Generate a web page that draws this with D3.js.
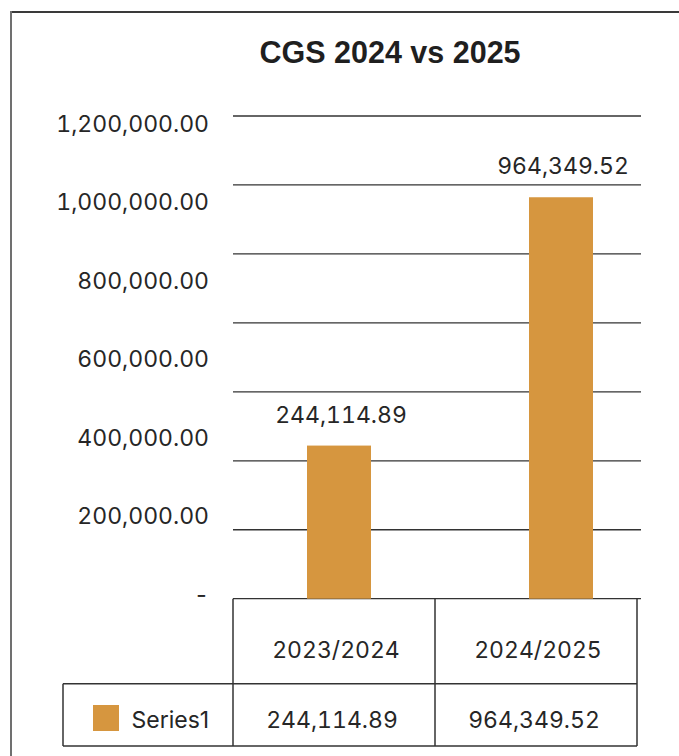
<!DOCTYPE html>
<html>
<head>
<meta charset="utf-8">
<script src="https://cdn.jsdelivr.net/npm/d3@7"></script>
<style>
    body { margin: 0; background: #fff; }
    svg { display: block; }
</style>
</head>
<body>
<script>
window.onload = main;

// values
const categories = ["2023/2024", "2024/2025"]
const seriesName = "Series1"
const seriesValues = [244114.89, 964349.52]
const axisTicks = [0, 200000, 400000, 600000, 800000, 1000000, 1200000]
const gridTicks = [-200000, 0, 200000, 400000, 600000, 800000, 1000000, 1200000]
const titleText = "CGS 2024 vs 2025"

const svgWidth = 679;
const svgHeight = 756;

const barColor = "#d6963f"
const lineColor = "#333"
const textColor = "#262626"
const fontBody = "Inter, 'Liberation Sans', Arial, sans-serif"

function main() {
    render_data()
}

function render_data() {
    const data = categories.map((c, i) => ({category: c, value: seriesValues[i]}))

    const svg = d3.select("body").append("svg")
        .attr("width", svgWidth)
        .attr("height", svgHeight)

    // frame (only top and left edges are visible)
    svg.append("line")
        .attr("x1", 10).attr("x2", svgWidth).attr("y1", 12).attr("y2", 12)
        .attr("stroke", "#3a3a3a").attr("stroke-width", 2)
    svg.append("line")
        .attr("x1", 11).attr("x2", 11).attr("y1", 11).attr("y2", svgHeight)
        .attr("stroke", "#707070").attr("stroke-width", 2)

    svg.append("text")
        .attr("x", 390)
        .attr("y", 63)
        .attr("text-anchor", "middle")
        .style("font-family", "'Liberation Sans', Arial, sans-serif")
        .style("font-weight", "bold")
        .style("font-size", "30.5px")
        .attr("fill", "#1f1f1f")
        .text(titleText)

    const plotLeft = 233
    const plotRight = 641

    const scaleY = d3.scaleLinear()
        .domain([-200000, 1200000])
        .range([598.7, 116])

    const scaleLabelY = d3.scaleLinear()
        .domain([0, 1200000])
        .range([595, 124])

    const scaleX = d3.scalePoint()
        .domain(categories)
        .range([228, 672])
        .padding(0.5)

    const scaleTable = d3.scaleBand()
        .domain(categories)
        .range([plotLeft, 637])

    const barWidth = 64

    // gridlines
    svg.append("g")
        .selectAll("line")
        .data(gridTicks)
        .join("line")
        .attr("x1", plotLeft)
        .attr("x2", plotRight)
        .attr("y1", d => scaleY(d))
        .attr("y2", d => scaleY(d))
        .attr("stroke", lineColor)
        .attr("stroke-width", 1.3)

    // y labels
    const fmt = d3.format(",.2f")
    const gAxis = svg.append("g")
        .attr("transform", "translate(209,0)")
        .call(d3.axisLeft(scaleLabelY)
            .tickValues(axisTicks)
            .tickSize(0)
            .tickPadding(0)
            .tickFormat(d => d === 0 ? "-" : fmt(d)))
    gAxis.select(".domain").remove()
    gAxis.selectAll("text")
        .style("font-family", fontBody)
        .style("font-size", "23px")
        .style("font-feature-settings", "'tnum'")
        .attr("fill", textColor)

    // bars
    svg.append("g")
        .selectAll("rect")
        .data(data)
        .join("rect")
        .attr("x", d => scaleX(d.category) - barWidth / 2)
        .attr("y", d => scaleY(d.value))
        .attr("width", barWidth)
        .attr("height", d => scaleY(-200000) - scaleY(d.value))
        .attr("fill", barColor)

    // value labels
    svg.append("g")
        .selectAll("text")
        .data(data)
        .join("text")
        .attr("x", d => scaleX(d.category) + 2)
        .attr("y", d => scaleY(d.value) - 23)
        .attr("text-anchor", "middle")
        .style("font-family", fontBody)
        .style("font-size", "23px")
        .style("font-feature-settings", "'tnum'")
        .attr("fill", textColor)
        .text(d => fmt(d.value))

    // data table
    const tableTop = 598.7
    const rowLine = 683.7
    const tableBottom = 746
    const legendLeft = 63
    const gTable = svg.append("g")
        .attr("stroke", lineColor)
        .attr("stroke-width", 1.5)

    gTable.append("line")
        .attr("x1", legendLeft).attr("x2", 637).attr("y1", rowLine).attr("y2", rowLine)
    gTable.append("line")
        .attr("x1", legendLeft).attr("x2", 637).attr("y1", tableBottom).attr("y2", tableBottom)
    gTable.append("line")
        .attr("x1", legendLeft).attr("x2", legendLeft).attr("y1", rowLine).attr("y2", tableBottom)
    gTable.selectAll(".col")
        .data(categories.concat(["end"]))
        .join("line")
        .attr("class", "col")
        .attr("x1", d => d === "end" ? scaleTable.range()[1] : scaleTable(d))
        .attr("x2", d => d === "end" ? scaleTable.range()[1] : scaleTable(d))
        .attr("y1", tableTop)
        .attr("y2", tableBottom)

    svg.append("g")
        .selectAll("text")
        .data(categories)
        .join("text")
        .attr("x", d => scaleTable(d) + scaleTable.bandwidth() / 2 + 2)
        .attr("y", 657.5)
        .attr("text-anchor", "middle")
        .style("font-family", fontBody)
        .style("font-size", "23px")
        .style("font-feature-settings", "'tnum'")
        .attr("fill", textColor)
        .text(d => d)

    svg.append("g")
        .selectAll("text")
        .data(data)
        .join("text")
        .attr("x", d => scaleTable(d.category) + scaleTable.bandwidth() / 2 - 2)
        .attr("y", 727.7)
        .attr("text-anchor", "middle")
        .style("font-family", fontBody)
        .style("font-size", "23px")
        .style("font-feature-settings", "'tnum'")
        .attr("fill", textColor)
        .text(d => fmt(d.value))

    // legend key
    svg.append("rect")
        .attr("x", 93).attr("y", 705)
        .attr("width", 26).attr("height", 26)
        .attr("fill", barColor)
    svg.append("text")
        .attr("x", 131.5)
        .attr("y", 727.7)
        .style("font-family", fontBody)
        .style("font-size", "23px")
        .attr("fill", textColor)
        .text(seriesName)
}
</script>
</body>
</html>
